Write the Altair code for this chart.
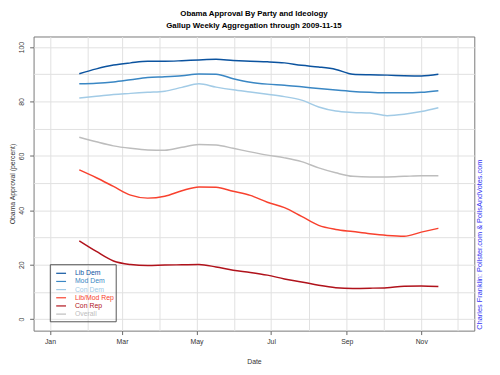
import altair as alt
import pandas as pd

# ---- data (two-week spacing) ----
dates = ["2009-01-25", "2009-02-08", "2009-02-22", "2009-03-08", "2009-03-22",
         "2009-04-05", "2009-04-19", "2009-05-03", "2009-05-17", "2009-05-31",
         "2009-06-14", "2009-06-28", "2009-07-12", "2009-07-26", "2009-08-09",
         "2009-08-23", "2009-09-06", "2009-09-20", "2009-10-04", "2009-10-18",
         "2009-11-01", "2009-11-15"]

series_names = ["Lib Dem", "Mod Dem", "Con Dem", "Lib/Mod Rep", "Con Rep", "Overall"]
series_colors = ["#0b539f", "#3a87c4", "#a2cbe6", "#f8412e", "#b0121b", "#bdbdbd"]

lib_dem = [90.2, 92.0, 93.4, 94.2, 94.8, 94.8, 95.0, 95.3, 95.5, 95.1, 94.8,
           94.6, 94.2, 93.3, 92.7, 91.8, 90.0, 89.8, 89.7, 89.5, 89.4, 90.0]
mod_dem = [86.5, 86.7, 87.2, 88.0, 88.8, 89.1, 89.5, 90.1, 90.0, 88.4, 87.1,
           86.4, 86.0, 85.4, 84.8, 84.2, 83.7, 83.4, 83.2, 83.2, 83.4, 84.0]
con_dem = [81.3, 81.9, 82.6, 83.0, 83.4, 83.8, 85.2, 86.5, 85.3, 84.3, 83.5,
           82.7, 81.8, 80.5, 78.0, 76.5, 76.0, 75.8, 74.8, 75.3, 76.3, 77.7]
lib_mod_rep = [54.9, 52.0, 48.8, 45.6, 44.5, 45.2, 47.2, 48.6, 48.5, 47.0, 45.5,
               43.0, 41.0, 37.8, 34.5, 33.0, 32.2, 31.4, 30.8, 30.5, 32.0, 33.4]
con_rep = [28.8, 24.9, 21.4, 20.1, 19.7, 19.9, 20.0, 20.1, 19.2, 18.0, 17.2,
           16.2, 14.8, 13.7, 12.5, 11.6, 11.3, 11.4, 11.6, 12.1, 12.2, 12.0]
overall = [66.9, 65.2, 63.7, 62.8, 62.2, 62.1, 63.2, 64.2, 64.0, 62.8, 61.5,
           60.3, 59.3, 57.9, 55.6, 53.8, 52.5, 52.3, 52.3, 52.5, 52.7, 52.7]

y_ticks = [0, 10, 20, 30, 40, 50, 60, 70, 80, 90, 100]

rows = []
for name, vals in zip(series_names, [lib_dem, mod_dem, con_dem, lib_mod_rep, con_rep, overall]):
    for d, v in zip(dates, vals):
        rows.append({"date": d, "series": name, "approval": v})
df = pd.DataFrame(rows)
legend_df = pd.DataFrame({"series": series_names})
one = pd.DataFrame({"a": [0]})

FONT = "Liberation Sans"

color = alt.Color("series:N", scale=alt.Scale(domain=series_names, range=series_colors), legend=None)

month_ticks = [alt.DateTime(year=2009, month=m, date=1, utc=True) for m in range(1, 13)]

x_axis = alt.Axis(
    values=month_ticks, title="Date", grid=True, gridColor="#e0e0e0", gridWidth=1,
    domain=False, tickColor="#666", tickSize=4,
    tickOpacity={"condition": {"test": "utcmonth(datum.value) % 2 == 0", "value": 1}, "value": 0},
    labelExpr="utcmonth(datum.value) % 2 == 0 ? utcFormat(datum.value, '%b') : ''",
    labelFont=FONT, labelFontSize=7, labelColor="#333", labelPadding=3,
    labelOverlap=False, labelFlush=False,
    titleFont=FONT, titleFontSize=7, titleFontWeight="normal", titleColor="#333", titlePadding=13,
)
y_axis = alt.Axis(
    values=y_ticks, title="Obama Approval (percent)", grid=True, gridColor="#e0e0e0", gridWidth=1,
    domain=False, tickColor="#666", tickSize=4,
    tickOpacity={"condition": {"test": "datum.value % 20 == 0", "value": 1}, "value": 0},
    labelExpr="datum.value % 20 == 0 ? datum.label : ''",
    labelAngle=270, labelAlign="center", labelBaseline="alphabetic", labelPadding=6,
    labelFont=FONT, labelFontSize=7, labelColor="#333", labelOverlap=False, labelFlush=False,
    titleFont=FONT, titleFontSize=7, titleFontWeight="normal", titleColor="#333",
    titleAngle=270, titleAlign="center", titleBaseline="middle", titleX=-21, titleY=149.5,
)

x_scale = alt.Scale(type="utc",
                    domain=[alt.DateTime(year=2008, month=12, date=18, hours=14, utc=True),
                            alt.DateTime(year=2009, month=12, date=14, hours=10, utc=True)])
y_scale = alt.Scale(domain=[-4.2, 103.9], nice=False, zero=False)

lines = alt.Chart(df).mark_line(interpolate="monotone", strokeWidth=1.5).encode(
    x=alt.X("date:T", scale=x_scale, axis=x_axis),
    y=alt.Y("approval:Q", scale=y_scale, axis=y_axis),
    color=color,
)

legend_box = alt.Chart(one).mark_rect(fill="transparent", stroke="#555", strokeWidth=1).encode(
    x=alt.value(17), x2=alt.value(84), y=alt.value(232), y2=alt.value(290)
)

legend_base = alt.Chart(legend_df).transform_window(
    idx="row_number()"
).transform_calculate(
    ly="240.7 + 8.3 * (datum.idx - 1)"
)

legend_lines = legend_base.mark_rule(strokeWidth=1.2).encode(
    x=alt.value(23), x2=alt.value(33),
    y=alt.Y("ly:Q", scale=None, axis=None),
    color=color,
)
legend_text = legend_base.mark_text(align="left", baseline="middle", font=FONT, fontSize=7).encode(
    x=alt.value(42),
    y=alt.Y("ly:Q", scale=None, axis=None),
    text="series:N",
    color=color,
)

credit = alt.Chart(one).mark_text(
    text="Charles Franklin: Pollster.com & PollsAndVotes.com",
    angle=270, align="left", baseline="middle", font=FONT, fontSize=7.5, color="#3535f5",
).encode(x=alt.value(454), y=alt.value(298))

chart = alt.layer(lines, legend_box, legend_lines, legend_text, credit).properties(
    width=448, height=299,
    title=alt.TitleParams(
        text="Obama Approval By Party and Ideology",
        subtitle="Gallup Weekly Aggregation through 2009-11-15",
        font=FONT, fontSize=8, fontWeight="bold", color="black",
        subtitleFont=FONT, subtitleFontSize=8, subtitleFontWeight="bold", subtitleColor="black",
        anchor="middle", offset=7, subtitlePadding=4,
    ),
    autosize=alt.AutoSizeParams(type="none"),
    padding={"left": 26, "top": 26, "right": 18, "bottom": 34},
).configure_view(stroke="#777", strokeWidth=1)

chart.save("out.html", embed_options={"renderer": "svg", "actions": False})
